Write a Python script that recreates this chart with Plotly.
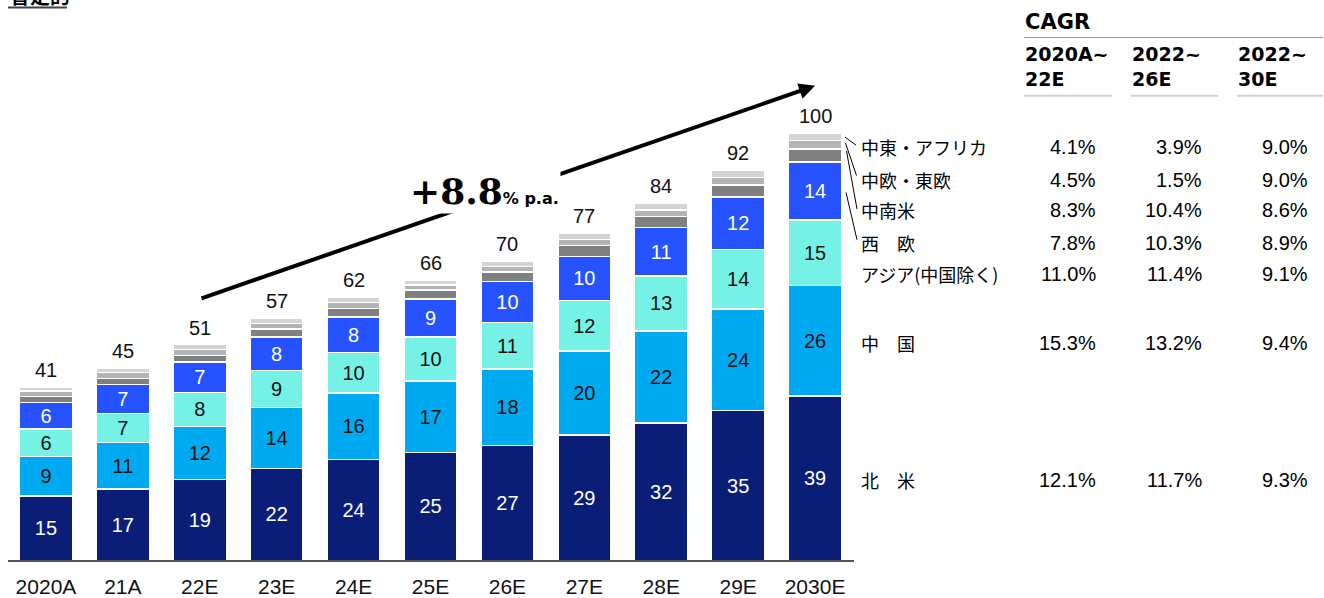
import plotly.graph_objects as go

# ---------------- data ----------------
categories = ["2020A", "21A", "22E", "23E", "24E", "25E", "26E", "27E", "28E", "29E", "2030E"]
north_america = [15.1, 16.7, 19.0, 21.6, 23.6, 25.3, 26.9, 29.4, 32.2, 35.1, 38.6]
china = [9.3, 10.9, 12.4, 14.2, 15.6, 16.8, 18.0, 19.7, 21.6, 23.8, 25.9]
asia_ex_china = [6.4, 6.9, 8.0, 8.7, 9.6, 10.3, 10.9, 11.8, 12.9, 14.0, 15.3]
western_europe = [6.2, 6.7, 7.1, 7.9, 8.3, 8.9, 9.6, 10.4, 11.4, 12.3, 13.6]
latin_america = [1.4, 1.4, 1.5, 1.8, 2.0, 2.1, 2.2, 2.5, 2.5, 2.8, 3.1]
central_eastern_europe = [1.3, 1.4, 1.4, 1.4, 1.4, 1.2, 1.3, 1.4, 1.6, 1.8, 1.9]
middle_east_africa = [0.9, 1.0, 1.2, 1.2, 1.2, 1.2, 1.2, 1.5, 1.5, 1.7, 1.7]
totals = [41, 45, 51, 57, 62, 66, 70, 77, 84, 92, 100]

growth_label = "+8.8"
growth_unit = "% p.a."
title_text = "暫定的"

table_title = "CAGR"
table_periods = ["2020A~<br>22E", "2022~<br>26E", "2022~<br>30E"]
table_regions = ["中東・アフリカ", "中欧・東欧", "中南米", "西　欧", "アジア(中国除く)", "中　国", "北　米"]
cagr_20_22 = [4.1, 4.5, 8.3, 7.8, 11.0, 15.3, 12.1]
cagr_22_26 = [3.9, 1.5, 10.4, 10.3, 11.4, 13.2, 11.7]
cagr_22_30 = [9.0, 9.0, 8.6, 8.9, 9.1, 9.4, 9.3]

# ---------------- styling ----------------
W, H = 1324, 598
SANS = "Liberation Sans, Arial, sans-serif"
WIDE_BOLD = "DejaVu Sans, sans-serif"
JP = "Noto Sans CJK JP, sans-serif"

series = [
    ("北米", north_america, "#0A1E78", "white", True),
    ("中国", china, "#00AAF0", "#111111", True),
    ("アジア(中国除く)", asia_ex_china, "#76F1E5", "#111111", True),
    ("西欧", western_europe, "#2652FF", "white", True),
    ("中南米", latin_america, "#808080", "white", False),
    ("中欧・東欧", central_eastern_europe, "#B4B4B4", "white", False),
    ("中東・アフリカ", middle_east_africa, "#D4D4D4", "white", False),
]

fig = go.Figure()
for name, vals, color, tcolor, show in series:
    fig.add_trace(go.Bar(
        x=categories, y=vals, name=name,
        marker=dict(color=color, line=dict(color="white", width=1.5)),
        texttemplate="%{y:.0f}" if show else None,
        textposition="inside" if show else "none",
        insidetextanchor="middle", textangle=0, constraintext="none",
        textfont=dict(size=20, color=tcolor, family=SANS),
        hoverinfo="skip",
    ))

stack_tops = [sum(v) for v in zip(*[s[1] for s in series])]


def px(x):
    return x / W


def py(y):
    return 1 - y / H


annotations = []
shapes = []

# totals above each stacked bar
for cat, top, tot in zip(categories, stack_tops, totals):
    annotations.append(dict(
        x=cat, y=top, xref="x", yref="y", text=str(tot), showarrow=False,
        yanchor="bottom", yshift=4, font=dict(size=20, family=SANS, color="#111111"),
    ))

# growth arrow
annotations.append(dict(
    x=px(815), y=py(87), xref="paper", yref="paper",
    ax=-615, ay=213, axref="pixel", ayref="pixel",
    showarrow=True, arrowhead=2, arrowsize=0.8, arrowwidth=4,
    arrowcolor="black", text="",
))
annotations.append(dict(
    x=px(485), y=py(194), xref="paper", yref="paper", showarrow=False,
    text="<b>" + growth_label + "<span style='font-family:DejaVu Sans;font-size:16px'>"
         + growth_unit + "</span></b>",
    font=dict(family="DejaVu Serif, serif", size=36, color="black"),
    bgcolor="white", borderpad=1, xanchor="center", yanchor="middle",
))

# cut-off title at top-left
annotations.append(dict(
    x=px(8), y=py(-5), xref="paper", yref="paper", showarrow=False,
    text="<b>" + title_text + "</b>", font=dict(family=JP, size=20, color="black"),
    xanchor="left", yanchor="middle",
))
shapes.append(dict(type="line", xref="paper", yref="paper",
                   x0=px(8), x1=px(67), y0=py(7.5), y1=py(7.5),
                   line=dict(color="#404040", width=2)))

# table header
annotations.append(dict(
    x=px(1023), y=py(22), xref="paper", yref="paper", showarrow=False,
    text="<b>" + table_title + "</b>", font=dict(family=WIDE_BOLD, size=21, color="black"),
    xanchor="left", yanchor="middle",
))
shapes.append(dict(type="line", xref="paper", yref="paper",
                   x0=px(1024), x1=px(1323), y0=py(38), y1=py(38),
                   line=dict(color="#9a9a9a", width=1)))
col_left = [1023, 1130, 1236]
col_right = [1098, 1204, 1310]
col_line_right = [1112, 1218, 1323]
for i, p in enumerate(table_periods):
    annotations.append(dict(
        x=px(col_left[i]), y=py(67), xref="paper", yref="paper", showarrow=False,
        text="<b>" + p + "</b>", font=dict(family=WIDE_BOLD, size=19, color="black"),
        xanchor="left", yanchor="middle", align="left",
    ))
    shapes.append(dict(type="line", xref="paper", yref="paper",
                       x0=px(col_left[i] + 1), x1=px(col_line_right[i]), y0=py(97), y1=py(97),
                       line=dict(color="#d0d0d0", width=2)))

row_y = [149, 182, 213, 246, 278, 348, 487]
cols = [cagr_20_22, cagr_22_26, cagr_22_30]
for r, region in enumerate(table_regions):
    annotations.append(dict(
        x=px(859), y=py(row_y[r]), xref="paper", yref="paper", showarrow=False,
        text=region, font=dict(family=JP, size=18, color="black"),
        xanchor="left", yanchor="middle",
    ))
    for c in range(3):
        annotations.append(dict(
            x=px(col_right[c]), y=py(row_y[r]), xref="paper", yref="paper", showarrow=False,
            text=f"{cols[c][r]:.1f}%", font=dict(family=SANS, size=20, color="black"),
            xanchor="right", yanchor="middle",
        ))

# leader lines from the last bar to the small-region labels
for (x0, y0, x1, y1) in [(845, 139, 856, 147), (845.5, 145, 856.5, 178),
                         (846.5, 153, 857, 212), (846, 195, 857, 243)]:
    shapes.append(dict(type="line", xref="paper", yref="paper",
                       x0=px(x0), y0=py(y0), x1=px(x1), y1=py(y1),
                       line=dict(color="black", width=1)))

fig.update_layout(
    width=W, height=H, autosize=False, barmode="stack", bargap=0.31, showlegend=False,
    margin=dict(l=0, r=0, t=0, b=0), paper_bgcolor="white", plot_bgcolor="white",
    font=dict(family=SANS, color="black"),
    xaxis=dict(domain=[7.5 / W, 853.5 / W], type="category", showline=True,
               linecolor="#555555", linewidth=2, ticks="", showgrid=False,
               ticklabelstandoff=6,
               tickfont=dict(size=21, family=SANS, color="#111111")),
    yaxis=dict(domain=[30 / H, 578 / H], range=[0, 548 / 4.323], visible=False),
    annotations=annotations, shapes=shapes,
)

fig.write_html(
    "out.html",
    config={"responsive": False, "displayModeBar": False},
    post_script="document.body.style.margin='0px';",
)
